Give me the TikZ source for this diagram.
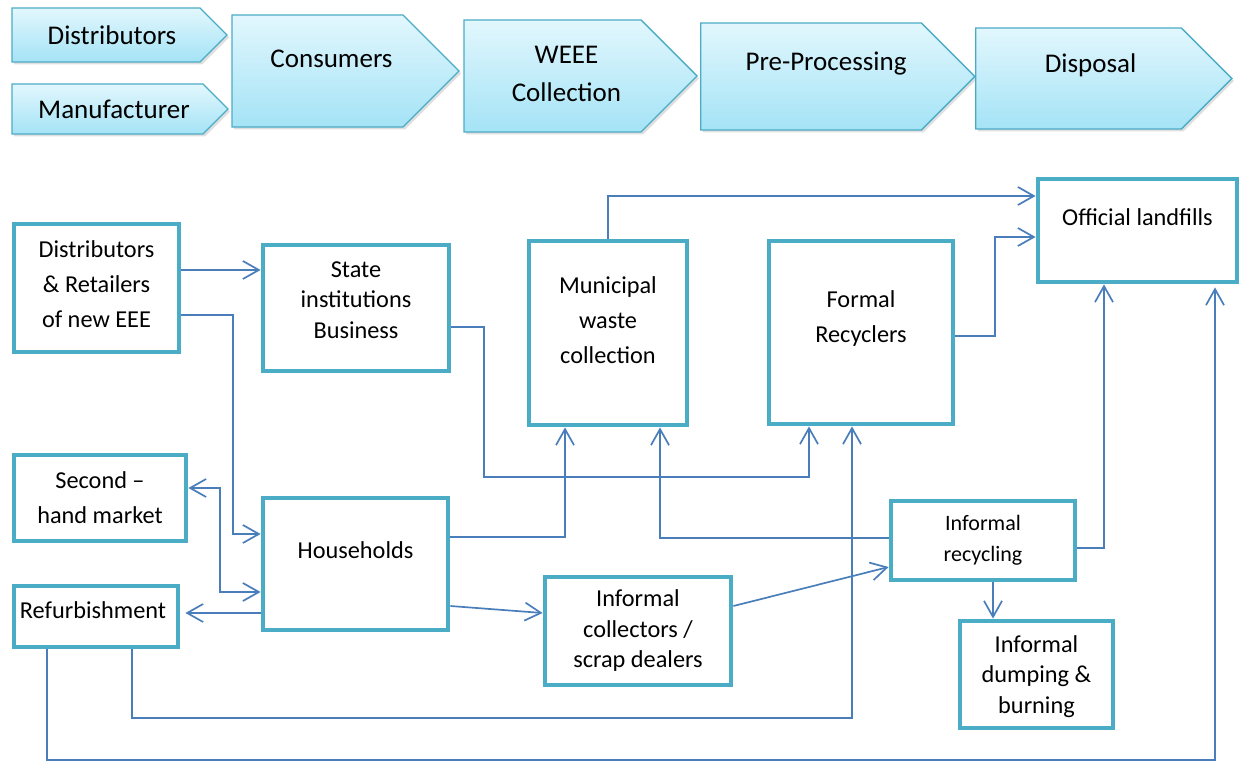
\documentclass[tikz,border=0pt]{standalone}
\usepackage{fontspec}
\setmainfont{Carlito}
\usetikzlibrary{shapes.symbols,arrows.meta,shadows}

\definecolor{boxline}{RGB}{75,172,198}
\definecolor{flowline}{RGB}{74,126,187}
\definecolor{chevtop}{RGB}{226,247,253}
\definecolor{chevbot}{RGB}{164,227,246}

\begin{document}
\begin{tikzpicture}[
    x=1pt, y=-1pt,
    >={Straight Barb[length=16pt, width=18pt]},
    chev/.style={signal, signal to=east, draw=boxline, line width=1.4pt, top color=chevtop, bottom color=chevbot, inner sep=0pt, drop shadow={shadow xshift=2pt, shadow yshift=-2.5pt, opacity=0.25}},
    ctext/.style={align=center, font=\fontsize{27}{38}\selectfont},
    box/.style={rectangle, draw=boxline, line width=4.8pt, fill=white, inner sep=0pt},
    txt/.style={align=center, font=\fontsize{24.3}{35}\selectfont},
    tight/.style={align=center, font=\fontsize{24.3}{30.5}\selectfont},
    arrow/.style={->, flowline, line width=1.7pt},
    biarrow/.style={<->, flowline, line width=1.7pt}
]
    \useasboundingbox (0,0) rectangle (1244,762);

    % Process chain
    \node[chev, minimum width=215, minimum height=54, label={[ctext, xshift=6]center:Distributors}] (pdist) at (106,35) {};
    \node[chev, minimum width=216, minimum height=50, label={[ctext, xshift=6.5]center:Manufacturer}] (pmanu) at (107.5,109) {};
    \node[chev, minimum width=227, minimum height=112, label={[ctext, xshift=14, yshift=12]center:Consumers}] (pcons) at (317.5,71) {};
    \node[chev, minimum width=233, minimum height=112, label={[ctext, xshift=14, yshift=2]center:WEEE\\Collection}] (pweee) at (552.5,76) {};
    \node[chev, minimum width=274, minimum height=107, label={[ctext, xshift=15, yshift=13]center:Pre-Processing}] (ppre) at (811,76.5) {};
    \node[chev, minimum width=256, minimum height=101, label={[ctext, xshift=12, yshift=13]center:Disposal}] (pdisp) at (1078.5,78.5) {};

    % Actors
    \node[box, minimum width=165, minimum height=128, label={[txt, yshift=4]center:Distributors\\\& Retailers\\of new EEE}] (dist) at (96.5,288) {};
    \node[box, minimum width=186, minimum height=126, label={[tight, yshift=8]center:State\\institutions\\Business}] (state) at (356,308) {};
    \node[box, minimum width=158, minimum height=184, label={[txt, yshift=13]center:Municipal\\waste\\collection}] (muni) at (608,333) {};
    \node[box, minimum width=184, minimum height=183, label={[txt, yshift=14]center:Formal\\Recyclers}] (formal) at (861,332.5) {};
    \node[box, minimum width=199, minimum height=103, label={[txt, yshift=13]center:Official landfills}] (landfill) at (1137.5,230.5) {};
    \node[box, minimum width=172, minimum height=86, label={[txt]center:Second –\\hand market}] (second) at (100,498) {};
    \node[box, minimum width=164, minimum height=61, label={[txt, xshift=-3, yshift=6]center:Refurbishment}] (refurb) at (96,616.5) {};
    \node[box, minimum width=185, minimum height=132, label={[txt, yshift=14]center:Households}] (house) at (355.5,564) {};
    \node[box, minimum width=186, minimum height=108, label={[tight]center:Informal\\collectors /\\scrap dealers}] (infcoll) at (638,631) {};
    \node[box, minimum width=184, minimum height=79, label={[align=center, font=\fontsize{22}{31}\selectfont]center:Informal\\recycling}] (infrec) at (983,540.5) {};
    \node[box, minimum width=153, minimum height=107, label={[tight, yshift=-2]center:Informal\\dumping \&\\burning}] (dump) at (1036.5,674.5) {};

    % Flows
    \draw[arrow] (dist.east |- 0,270) -- (state.west |- 0,270);
    \draw[arrow] (dist.east |- 0,315) -- (233,315) |- (house.west |- 0,534);
    \draw[biarrow] (second.east |- 0,488) -- (220,488) |- (house.west |- 0,592);
    \draw[arrow, shorten >=5pt] (house.west |- 0,613) -- (refurb.east |- 0,613);
    \draw[arrow] (state.east |- 0,327) -- (484,327) |- (809,477) -- (formal.south -| 809,0);
    \draw[arrow] (house.east |- 0,537) -| (muni.south -| 565,0);
    \draw[arrow] (house.east |- 0,606) -- (infcoll.west |- 0,613);
    \draw[arrow] (infcoll.east |- 0,606) -- (infrec.west |- 0,567);
    \draw[arrow] (infrec.west |- 0,538) -| (muni.south -| 660,0);
    \draw[arrow] (infrec.east |- 0,548) -| (landfill.south -| 1104,0);
    \draw[arrow] (infrec.south -| 993,0) -- (dump.north -| 993,0);
    \draw[arrow] (muni.north) |- (landfill.west |- 0,196);
    \draw[arrow] (formal.east |- 0,336) -- (995,336) |- (landfill.west |- 0,237);
    \draw[arrow] (refurb.south -| 132,0) |- (852,718) -- (formal.south -| 852,0);
    \draw[arrow, shorten >=3pt] (refurb.south -| 47,0) |- (1215,760) -- (landfill.south -| 1215,0);
\end{tikzpicture}
\end{document}
